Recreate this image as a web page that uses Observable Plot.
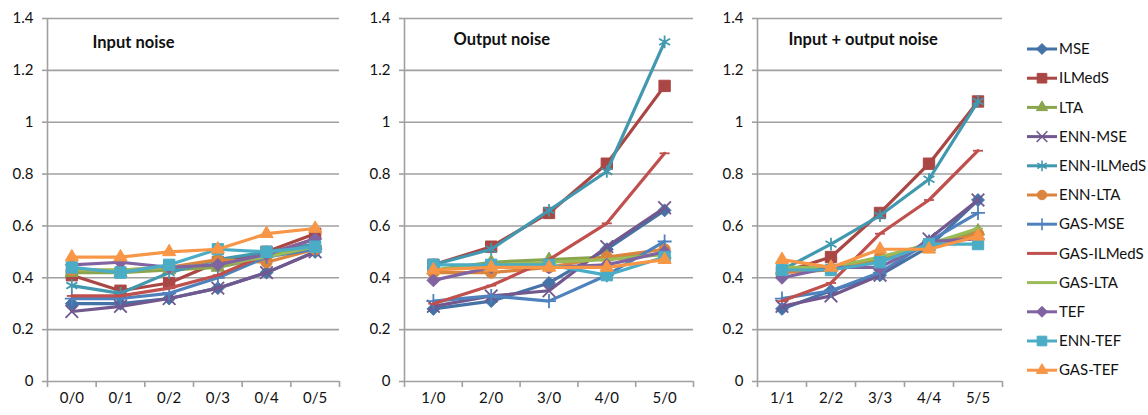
<!DOCTYPE html>
<html><head><meta charset="utf-8">
<script src="https://cdn.jsdelivr.net/npm/d3@7"></script>
<script src="https://cdn.jsdelivr.net/npm/@observablehq/plot@0.6"></script>
<style>
body{margin:0;background:#fff;}
#root{position:relative;width:1148px;height:415px;overflow:hidden;font-family:Lato,"Open Sans",sans-serif;}
.panel{position:absolute;top:0;}
#legend{position:absolute;left:0;top:0;}
</style></head><body><div id="root"></div>
<script>
const series = ["MSE","ILMedS","LTA","ENN-MSE","ENN-ILMedS","ENN-LTA","GAS-MSE","GAS-ILMedS","GAS-LTA","TEF","ENN-TEF","GAS-TEF"];
const colors = ["#4572A7","#AA4643","#89A54E","#71588F","#4198AF","#DB843D","#4F81BD","#C0504D","#9BBB59","#8064A2","#4BACC6","#F79646"];
const markerNames = ["diamond","square","triangle","times","asterisk","circle","plus","dash","dash","diamond","square","triangle"];
const yTicks = [0, 0.2, 0.4, 0.6, 0.8, 1, 1.2, 1.4];

const inputCats = ["0/0","0/1","0/2","0/3","0/4","0/5"];
const outputCats = ["1/0","2/0","3/0","4/0","5/0"];
const bothCats = ["1/1","2/2","3/3","4/4","5/5"];

// values per series, in the order of `series`
const inputNoise = [
  [0.30, 0.30, 0.32, 0.36, 0.42, 0.50],
  [0.41, 0.35, 0.38, 0.46, 0.50, 0.57],
  [0.42, 0.42, 0.43, 0.44, 0.48, 0.53],
  [0.27, 0.29, 0.32, 0.36, 0.42, 0.50],
  [0.37, 0.34, 0.42, 0.47, 0.50, 0.53],
  [0.43, 0.43, 0.44, 0.47, 0.46, 0.51],
  [0.32, 0.32, 0.34, 0.40, 0.48, 0.51],
  [0.33, 0.33, 0.36, 0.41, 0.49, 0.55],
  [0.43, 0.43, 0.44, 0.45, 0.48, 0.52],
  [0.45, 0.46, 0.44, 0.45, 0.49, 0.55],
  [0.44, 0.42, 0.45, 0.51, 0.50, 0.52],
  [0.48, 0.48, 0.50, 0.51, 0.57, 0.59]
];
const outputNoise = [
  [0.28, 0.31, 0.38, 0.51, 0.66],
  [0.45, 0.52, 0.65, 0.84, 1.14],
  [0.43, 0.46, 0.47, 0.48, 0.49],
  [0.29, 0.33, 0.35, 0.52, 0.67],
  [0.45, 0.51, 0.66, 0.81, 1.31],
  [0.42, 0.42, 0.44, 0.48, 0.51],
  [0.31, 0.33, 0.31, 0.41, 0.54],
  [0.30, 0.37, 0.47, 0.61, 0.88],
  [0.43, 0.45, 0.46, 0.47, 0.49],
  [0.39, 0.44, 0.44, 0.45, 0.50],
  [0.45, 0.45, 0.45, 0.41, 0.48],
  [0.43, 0.44, 0.44, 0.44, 0.47]
];
const bothNoise = [
  [0.28, 0.35, 0.41, 0.52, 0.70],
  [0.42, 0.48, 0.65, 0.84, 1.08],
  [0.43, 0.44, 0.47, 0.52, 0.58],
  [0.29, 0.33, 0.41, 0.55, 0.70],
  [0.43, 0.53, 0.64, 0.78, 1.08],
  [0.42, 0.43, 0.48, 0.52, 0.57],
  [0.32, 0.35, 0.42, 0.54, 0.65],
  [0.31, 0.38, 0.57, 0.70, 0.89],
  [0.44, 0.44, 0.48, 0.53, 0.59],
  [0.40, 0.44, 0.44, 0.54, 0.55],
  [0.43, 0.43, 0.46, 0.53, 0.53],
  [0.47, 0.44, 0.51, 0.51, 0.56]
];
const titles = ["Input noise", "Output noise", "Input + output noise"];

const FONT = "Lato, 'Open Sans', sans-serif";
const GRID = "#a0a0a0";
const TEXT = "#111";

const dashSymbol = {draw(ctx, size) { const w = Math.sqrt(size) * 0.75; ctx.moveTo(-w, 0); ctx.lineTo(w, 0); }};
const symbolDefs = {
  diamond: {sym: d3.symbolDiamond2, r: 5.8, filled: true},
  square: {sym: "square", r: 6.4, filled: true},
  triangle: {sym: "triangle", r: 4.9, filled: true},
  times: {sym: "times", r: 5.8, filled: false},
  asterisk: {sym: "asterisk", r: 6, filled: false},
  circle: {sym: "circle", r: 5.6, filled: true},
  plus: {sym: "plus", r: 4.6, filled: false},
  dash: {sym: dashSymbol, r: 3.8, filled: false}
};
const d3Symbols = {diamond: d3.symbolDiamond2, square: d3.symbolSquare, triangle: d3.symbolTriangle, times: d3.symbolTimes, asterisk: d3.symbolAsterisk, circle: d3.symbolCircle, plus: d3.symbolPlus, dash: dashSymbol};

function panel(cats, vals, title, cfg) {
  const n = cats.length;
  const marks = [
    Plot.ruleY(yTicks, {stroke: GRID, strokeWidth: 1.6}),
    Plot.ruleX([-0.5], {stroke: GRID, strokeWidth: 1.6}),
    Plot.axisY({ticks: yTicks, tickSize: 5, tickPadding: 9, tickFormat: d => String(d), stroke: GRID, strokeWidth: 1.6, fill: TEXT, fontSize: 15, label: null}),
    Plot.axisX({ticks: d3.range(n + 1).map(i => i - 0.5), tickSize: 6, tickFormat: () => "", stroke: GRID, strokeWidth: 1.6, label: null}),
    Plot.axisX({ticks: d3.range(n), tickSize: 0, tickPadding: 11, tickFormat: i => cats[i], fill: TEXT, fontSize: 15, label: null})
  ];
  series.forEach((s, si) => {
    const d = vals[si].map((v, i) => ({i, v}));
    const m = symbolDefs[markerNames[si]];
    marks.push(Plot.line(d, {x: "i", y: "v", stroke: colors[si], strokeWidth: 3.2, strokeLinejoin: "round"}));
    marks.push(Plot.dot(d, {x: "i", y: "v", symbol: m.sym, r: m.r,
      fill: m.filled ? colors[si] : "none", stroke: colors[si], strokeWidth: m.filled ? 1 : 1.8}));
  });
  marks.push(Plot.text([title], {frameAnchor: "top-left", dx: cfg.tdx, dy: cfg.tdy, textAnchor: "start", lineAnchor: "top",
    fontWeight: "bold", fontSize: 16.5, fill: "#111"}));
  const svg = Plot.plot({
    width: cfg.width, height: 415,
    marginTop: 18, marginBottom: 34, marginLeft: cfg.ml, marginRight: cfg.mr,
    x: {domain: [-0.5, n - 0.5]},
    y: {domain: [0, 1.4]},
    style: {fontFamily: FONT, fontSize: "15px", background: "transparent", overflow: "visible"},
    marks
  });
  svg.classList.add("panel");
  svg.style.left = cfg.left + "px";
  return svg;
}

const root = document.getElementById("root");
root.appendChild(panel(inputCats, inputNoise, titles[0], {left: 0, width: 345, ml: 47, mr: 6, tdx: 45, tdy: 18}));
root.appendChild(panel(outputCats, outputNoise, titles[1], {left: 355, width: 345, ml: 49, mr: 7, tdx: 49, tdy: 15}));
root.appendChild(panel(bothCats, bothNoise, titles[2], {left: 705, width: 300, ml: 52, mr: 3, tdx: 31, tdy: 15}));

// legend
const lg = d3.select(root).append("svg").attr("id", "legend").attr("width", 1148).attr("height", 415)
  .style("font-family", FONT);
series.forEach((s, si) => {
  const y = 49 + si * 29.2;
  const g = lg.append("g").attr("transform", `translate(0,${y})`);
  g.append("line").attr("x1", 1027).attr("x2", 1057).attr("y1", 0).attr("y2", 0)
    .attr("stroke", colors[si]).attr("stroke-width", 3);
  const name = markerNames[si];
  if (name !== "dash") {
    const m = symbolDefs[name];
    const r = m.r * 0.85;
    g.append("path").attr("transform", "translate(1042,0)")
      .attr("d", d3.symbol(d3Symbols[name], r * r * Math.PI)())
      .attr("fill", m.filled ? colors[si] : "none").attr("stroke", colors[si])
      .attr("stroke-width", m.filled ? 1 : 1.6);
  }
  g.append("text").attr("x", 1059).attr("y", 0).attr("dy", "0.35em").attr("font-size", 15)
    .attr("fill", TEXT).text(s);
});
</script></body></html>
